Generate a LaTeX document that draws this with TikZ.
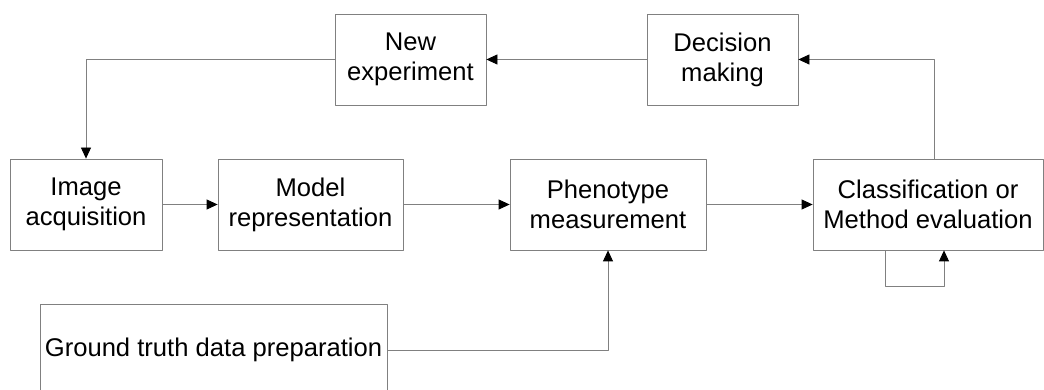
\documentclass[tikz,border=0pt]{standalone}
\usepackage{fontspec}
\setmainfont{Liberation Sans}
\usetikzlibrary{arrows.meta}
\begin{document}
\begin{tikzpicture}[x=1pt, y=1pt, font=\fontsize{25.6}{30}\selectfont, line join=round]
		\tikzset{
		stage/.style={draw=gray, line width=0.8pt, minimum height=91pt, inner sep=0pt, align=center},
		flow/.style={draw=gray, line width=0.8pt, arrows={-Triangle[length=11pt,width=10pt,fill=black,color=black]}}
		}
		\useasboundingbox (0,0) rectangle (1044,390);
		\node[stage, minimum width=151pt] (newexp) at (410.5,330.5) {New\\experiment};
		\node[stage, minimum width=151pt] (decision) at (722.5,330.5) {Decision\\making};
		\node[stage, minimum width=152pt] (image) at (86,185.5) {Image\\acquisition};
		\node[stage, minimum width=185pt] (model) at (310.5,185.5) {Model\\representation};
		\node[stage, minimum width=196pt] (pheno) at (608,185.5) {Phenotype\\measurement};
		\node[stage, minimum width=230pt] (classif) at (928,185.5) {Classification or\\Method evaluation};
		\node[stage, minimum width=347pt, minimum height=92pt] (ground) at (213.5,40) {Ground truth data preparation};
		\draw[flow] (newexp.west) -| (image.north);
		\draw[flow] (decision.west) -- (newexp.east);
		\draw[flow] ([xshift=6pt]classif.north) |- (decision.east);
		\draw[flow] (image.east) -- (model.west);
		\draw[flow] (model.east) -- (pheno.west);
		\draw[flow] (pheno.east) -- (classif.west);
		\draw[flow] (ground.east) -| (pheno.south);
		\draw[flow] ([xshift=-43pt]classif.south) -- ++(0,-36) -| ([xshift=16pt]classif.south);
	\end{tikzpicture}
\end{document}
